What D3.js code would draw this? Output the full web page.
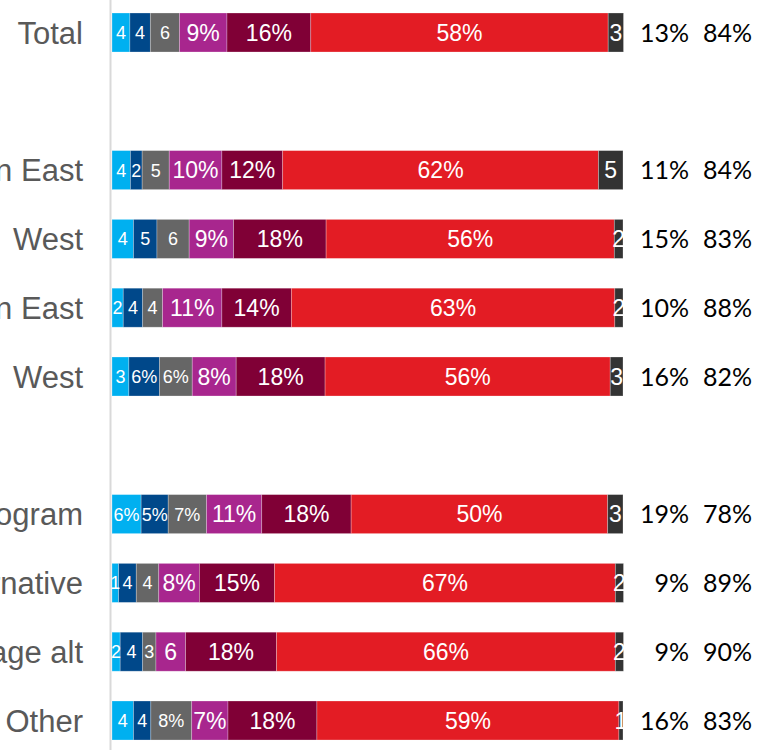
<!DOCTYPE html>
<html>
<head>
<meta charset="utf-8">
<script src="https://cdn.jsdelivr.net/npm/d3@7"></script>
<style>
  body { margin: 0; background: #fff; overflow: hidden; }
  svg { display: block; }
</style>
</head>
<body>
<script>
// rows, top to bottom (empty string = spacer row)
const rows = ["Total", "", "Urban East", "West", "Town East", "West", "",
              "Standard program", "Alternative", "Average alt", "Other"];

// segment values per row (percent, left to right)
const seg1 = [3.5, null, 3.6, 4.2, 2.2, 3.3, null, 5.7, 1.3, 1.6, 4.2];
const seg2 = [4.0, null, 2.3, 4.6, 3.8, 6.0, null, 5.3, 3.45, 4.4, 3.4];
const seg3 = [5.7, null, 5.3, 6.3, 3.9, 6.4, null, 7.5, 4.4, 2.6, 8.0];
const seg4 = [9.3, null, 10.3, 8.7, 11.6, 8.6, null, 10.8, 7.95, 5.8, 7.1];
const seg5 = [16.4, null, 11.9, 18.1, 13.6, 17.4, null, 17.5, 14.7, 17.8, 17.4];
const seg6 = [58.2, null, 61.8, 56.4, 63.3, 55.8, null, 50.2, 66.7, 66.3, 59.1];
const seg7 = [3.0, null, 4.8, 1.7, 1.6, 2.5, null, 3.0, 1.6, 1.6, 0.8];

// data labels as printed on the bars
const lab1 = ["4", "", "4", "4", "2", "3", "", "6%", "1", "2", "4"];
const lab2 = ["4", "", "2", "5", "4", "6%", "", "5%", "4", "4", "4"];
const lab3 = ["6", "", "5", "6", "4", "6%", "", "7%", "4", "3", "8%"];
const lab4 = ["9%", "", "10%", "9%", "11%", "8%", "", "11%", "8%", "6", "7%"];
const lab5 = ["16%", "", "12%", "18%", "14%", "18%", "", "18%", "15%", "18%", "18%"];
const lab6 = ["58%", "", "62%", "56%", "63%", "56%", "", "50%", "67%", "66%", "59%"];
const lab7 = ["3", "", "5", "2", "2", "3", "", "3", "2", "2", "1"];

// two summary columns on the right
const col1 = ["13%", "", "11%", "15%", "10%", "16%", "", "19%", "9%", "9%", "16%"];
const col2 = ["84%", "", "84%", "83%", "88%", "82%", "", "78%", "89%", "90%", "83%"];

const colors = ["#00b0f0", "#00488a", "#666666", "#a8268e", "#800036", "#e31c24", "#333333"];
const labelSize = [18, 18, 18, 23, 23, 23, 23];

const width = 759, height = 750;

const svg = d3.select("body").append("svg")
    .attr("width", width)
    .attr("height", height);

const x = d3.scaleLinear().domain([0, 100]).range([112, 623]);

const y = d3.scaleBand()
    .domain(d3.range(rows.length))
    .range([-1.9, 754.9])
    .paddingInner(0.433)
    .paddingOuter(0.2165);

// vertical axis line
svg.append("line")
    .attr("x1", 110.5).attr("x2", 110.5)
    .attr("y1", 0).attr("y2", height)
    .attr("stroke", "#d9d9d9")
    .attr("stroke-width", 2);

const segVals = [seg1, seg2, seg3, seg4, seg5, seg6, seg7];
const segLabs = [lab1, lab2, lab3, lab4, lab5, lab6, lab7];

const data = [];
rows.forEach((r, i) => {
    if (!r) return;
    let acc = 0;
    segVals.forEach((s, k) => {
        data.push({ row: i, k: k, x0: acc, x1: acc + s[i], label: segLabs[k][i] });
        acc += s[i];
    });
});

const g = svg.append("g");

g.selectAll("rect")
    .data(data)
    .join("rect")
    .attr("x", d => x(d.x0))
    .attr("y", d => y(d.row))
    .attr("width", d => x(d.x1) - x(d.x0))
    .attr("height", y.bandwidth())
    .attr("fill", d => colors[d.k])
    .attr("stroke", "rgba(255,255,255,0.35)")
    .attr("stroke-width", 0.75);

g.selectAll("text.seg")
    .data(data)
    .join("text")
    .attr("class", "seg")
    .attr("x", d => (x(d.x0) + x(d.x1)) / 2)
    .attr("y", d => y(d.row) + y.bandwidth() / 2)
    .attr("dy", "0.36em")
    .attr("text-anchor", "middle")
    .attr("font-family", "'Liberation Sans', Arial, sans-serif")
    .attr("font-size", d => labelSize[d.k])
    .attr("fill", "#fff")
    .text(d => d.label);

// row labels (clipped at the left edge like the original)
const rowIdx = d3.range(rows.length).filter(i => rows[i]);

svg.selectAll("text.row")
    .data(rowIdx)
    .join("text")
    .attr("class", "row")
    .attr("x", 83)
    .attr("y", i => y(i) + y.bandwidth() / 2)
    .attr("dy", "0.36em")
    .attr("text-anchor", "end")
    .attr("font-family", "'Liberation Sans', Arial, sans-serif")
    .attr("font-size", 31)
    .attr("fill", "#595959")
    .text(i => rows[i]);

// summary columns
[[col1, 689], [col2, 752]].forEach(([col, xe]) => {
    svg.append("g").selectAll("text")
        .data(rowIdx)
        .join("text")
        .attr("x", xe)
        .attr("y", i => y(i) + y.bandwidth() / 2)
        .attr("dy", "0.36em")
        .attr("text-anchor", "end")
        .attr("font-family", "Lato, 'Open Sans', sans-serif")
        .attr("font-size", 25)
        .attr("fill", "#000")
        .text(i => col[i]);
});
</script>
</body>
</html>
